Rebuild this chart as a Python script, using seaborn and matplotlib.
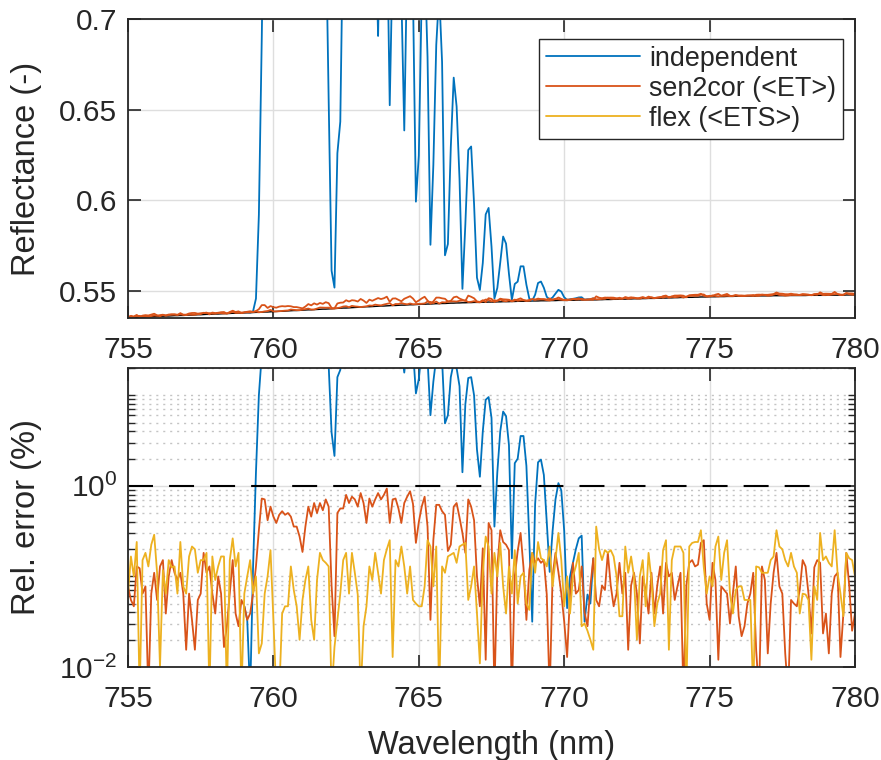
import numpy as np
import matplotlib
matplotlib.use('Agg')
import matplotlib.pyplot as plt
from matplotlib.lines import Line2D
import seaborn as sns

# wavelength grid (nm), 0.1 nm sampling
wavelength = np.round(np.arange(755, 780.05, 0.1), 1)

# reference ("true") reflectance, in units of 1e-4
truth_e4 = [
    5352, 5353, 5353, 5354, 5355, 5355, 5356, 5357, 5357, 5358,
    5359, 5359, 5360, 5361, 5361, 5362, 5363, 5363, 5364, 5364,
    5365, 5366, 5366, 5367, 5368, 5368, 5369, 5370, 5370, 5371,
    5372, 5372, 5373, 5374, 5374, 5375, 5376, 5376, 5377, 5377,
    5378, 5379, 5379, 5380, 5381, 5381, 5382, 5383, 5383, 5384,
    5385, 5386, 5387, 5387, 5388, 5389, 5390, 5391, 5391, 5392,
    5393, 5394, 5395, 5395, 5396, 5397, 5398, 5399, 5399, 5400,
    5401, 5402, 5403, 5404, 5405, 5405, 5406, 5407, 5408, 5409,
    5410, 5411, 5412, 5412, 5413, 5414, 5415, 5416, 5416, 5417,
    5418, 5419, 5419, 5420, 5421, 5421, 5422, 5423, 5423, 5424,
    5425, 5426, 5426, 5427, 5427, 5428, 5429, 5429, 5430, 5430,
    5431, 5432, 5432, 5433, 5433, 5434, 5434, 5435, 5435, 5436,
    5436, 5436, 5437, 5437, 5438, 5438, 5438, 5439, 5439, 5440,
    5440, 5440, 5441, 5441, 5442, 5442, 5442, 5443, 5443, 5444,
    5444, 5444, 5445, 5445, 5445, 5446, 5446, 5446, 5447, 5447,
    5447, 5447, 5448, 5448, 5448, 5449, 5449, 5449, 5450, 5450,
    5450, 5450, 5451, 5451, 5452, 5452, 5452, 5453, 5453, 5454,
    5454, 5454, 5455, 5455, 5456, 5456, 5456, 5457, 5457, 5458,
    5458, 5458, 5459, 5459, 5460, 5460, 5461, 5461, 5462, 5462,
    5463, 5463, 5464, 5464, 5464, 5465, 5465, 5466, 5466, 5466,
    5467, 5467, 5467, 5468, 5468, 5468, 5469, 5469, 5469, 5470,
    5470, 5470, 5470, 5471, 5471, 5471, 5471, 5472, 5472, 5472,
    5472, 5472, 5473, 5473, 5473, 5473, 5473, 5474, 5474, 5474,
    5474, 5474, 5474, 5474, 5475, 5475, 5475, 5475, 5475, 5475,
    5475, 5476, 5476, 5476, 5476, 5476, 5476, 5477, 5477, 5477,
    5477]

# log10 of relative error (%) - sen2cor (<ET>)
log_err_sen2cor = [
    -1.11, -1.26, -1.33, -0.89, -0.91, -1.19, -1.11, -2.3, -1.19, -0.96,
    -1.26, -0.89, -0.82, -1.41, -1.0, -0.82, -0.96, -1.04, -0.96, -1.19,
    -1.81, -1.19, -1.48, -1.81, -1.26, -1.19, -0.74, -0.96, -0.89, -1.19,
    -1.41, -1.0, -1.19, -1.78, -1.55, -1.19, -0.82, -1.41, -1.55, -1.26,
    -1.33, -1.48, -1.41, -1.19, -0.89, -0.49, -0.14, -0.15, -0.38, -0.23,
    -0.34, -0.41, -0.32, -0.28, -0.32, -0.30, -0.34, -0.45, -0.45, -0.56,
    -0.73, -0.45, -0.23, -0.34, -0.19, -0.30, -0.19, -0.27, -0.15, -0.23,
    -1.1, -1.66, -0.30, -0.25, -0.25, -0.10, -0.19, -0.12, -0.15, -0.23,
    -0.08, -0.19, -0.41, -0.14, -0.23, -0.15, -0.08, -0.15, -0.10, -0.03,
    -0.41, -0.15, -0.14, -0.25, -0.41, -0.19, -0.12, -0.06, -0.20, -0.63,
    -0.40, -0.23, -0.12, -0.45, -1.48, -0.60, -0.21, -0.21, -0.28, -0.32,
    -0.72, -0.65, -0.23, -0.19, -0.35, -0.52, -0.74, -0.15, -0.23, -0.38,
    -1.0, -1.33, -0.69, -1.92, -0.41, -0.49, -2.3, -0.9, -0.49, -0.62,
    -0.65, -0.71, -2.3, -1.0, -0.72, -0.52, -0.9, -1.48, -0.93, -0.74,
    -0.85, -0.8, -0.85, -0.82, -1.2, -2.3, -1.0, -0.74, -0.95, -1.19,
    -1.5, -1.89, -1.2, -0.85, -1.19, -1.15, -0.89, -1.4, -1.55, -1.11,
    -0.8, -1.26, -1.33, -1.1, -1.15, -0.74, -1.1, -1.33, -1.19, -0.85,
    -1.19, -0.96, -1.81, -1.1, -0.96, -1.19, -1.74, -1.0, -1.15, -1.41,
    -0.96, -1.41, -1.1, -0.89, -1.41, -0.85, -1.0, -0.96, -1.26, -1.1,
    -0.96, -2.3, -1.1, -0.85, -0.82, -0.89, -0.87, -0.63, -0.60, -1.3,
    -1.48, -0.85, -1.04, -1.92, -1.11, -1.15, -1.19, -1.52, -1.19, -0.89,
    -1.44, -1.66, -1.55, -1.3, -1.19, -0.96, -1.81, -2.3, -0.89, -1.04,
    -1.85, -1.3, -0.96, -0.74, -1.11, -1.19, -1.85, -2.3, -1.26, -1.3,
    -1.33, -1.15, -0.82, -0.89, -1.19, -1.63, -0.9, -0.82, -0.85, -1.63,
    -1.41, -1.85, -1.19, -1.0, -0.96, -1.89, -1.41, -0.74, -1.1, -1.6,
    -1.41]

# log10 of relative error (%) - flex (<ETS>)
log_err_flex = [
    -1.19, -0.78, -1.00, -0.62, -2.3, -0.82, -0.74, -0.89, -0.65, -0.54,
    -0.96, -2.0, -0.93, -1.19, -0.82, -0.90, -0.89, -1.19, -0.62, -1.11,
    -1.19, -0.78, -0.67, -0.70, -0.96, -0.82, -0.82, -0.74, -2.3, -0.78,
    -1.04, -0.89, -0.78, -0.78, -2.3, -0.82, -0.58, -0.89, -0.74, -2.3,
    -1.19, -1.0, -0.82, -1.19, -1.0, -1.85, -1.74, -1.19, -1.0, -0.71,
    -1.48, -2.3, -2.3, -1.41, -1.33, -1.33, -0.89, -1.15, -1.33, -1.70,
    -1.26, -1.04, -0.89, -1.48, -1.70, -1.04, -0.74, -0.82, -0.85, -0.89,
    -2.3, -1.78, -1.48, -1.19, -0.82, -0.74, -1.19, -0.74, -0.96, -1.2,
    -2.3, -1.55, -1.33, -0.89, -1.04, -0.74, -0.96, -1.19, -0.82, -0.70,
    -0.60, -1.89, -0.82, -0.89, -0.67, -0.89, -1.19, -0.89, -1.26, -1.30,
    -1.33, -1.33, -1.11, -0.60, -0.67, -1.11, -0.67, -2.3, -0.89, -0.96,
    -0.78, -0.76, -0.74, -0.85, -0.67, -0.65, -0.63, -1.26, -1.11, -0.89,
    -1.41, -1.96, -0.96, -0.56, -0.67, -1.19, -0.74, -1.0, -0.63, -1.11,
    -1.41, -0.89, -1.19, -0.71, -1.30, -1.0, -0.96, -1.30, -1.37, -0.74,
    -0.96, -0.62, -0.80, -0.82, -0.89, -0.67, -1.11, -0.82, -0.52, -0.82,
    -1.33, -1.0, -1.41, -1.0, -0.89, -0.74, -1.55, -1.52, -1.6, -1.7,
    -1.81, -0.45, -0.70, -0.82, -0.71, -0.74, -0.71, -0.78, -1.0, -1.44,
    -1.44, -0.67, -0.96, -0.78, -1.0, -1.70, -1.0, -0.82, -1.33, -0.74,
    -1.04, -1.55, -1.3, -1.19, -0.71, -0.60, -1.81, -0.82, -0.67, -0.67,
    -0.67, -0.74, -2.3, -0.67, -0.63, -0.62, -0.62, -0.49, -0.9, -1.19,
    -1.0, -1.11, -0.67, -0.56, -1.04, -0.74, -0.60, -1.19, -1.41, -1.15,
    -1.11, -1.11, -1.26, -1.26, -1.26, -2.3, -0.89, -0.9, -0.96, -0.96,
    -0.96, -0.82, -0.78, -0.49, -0.67, -0.7, -0.82, -0.89, -0.74, -0.89,
    -0.96, -1.41, -1.19, -1.2, -1.26, -1.92, -1.11, -1.26, -0.52, -0.82,
    -0.78, -0.85, -0.89, -0.49, -0.96, -1.19, -1.44, -0.74, -0.8, -0.82,
    -1.0]

# log10 of relative error (%) - independent, 759.0 .. 771.0 nm
# (outside this window it coincides with sen2cor)
indep_start, indep_stop = 40, 161
log_err_indep = [
    -1.33, -1.48, -2.3, -0.9, 0.15, 1.0, 1.45, 1.7, 1.75, 1.8,
    1.85, 1.9, 1.85, 1.8, 1.75, 1.8, 1.85, 1.9, 1.9, 1.85,
    1.8, 1.75, 1.8, 1.85, 1.8, 1.75, 1.7, 1.65, 1.6, 1.33,
    0.59, 0.33, 1.2, 1.28, 1.6, 1.7, 1.75, 1.8, 1.8, 1.75,
    1.7, 1.75, 1.8, 1.75, 1.7, 1.6, 1.44, 1.65, 1.7, 1.6,
    1.31, 1.55, 1.7, 1.6, 1.5, 1.25, 1.55, 1.6, 1.5, 1.02,
    1.18, 1.5, 1.55, 1.4, 0.78, 1.15, 1.42, 1.5, 1.39, 0.69,
    0.78, 1.2, 1.36, 1.3, 1.1, 0.15, 0.9, 1.19, 1.2, 1.0,
    0.4, 0.1, 0.6, 0.95, 0.98, 0.75, -0.45, 0.15, 0.6, 0.82,
    0.77, 0.45, -0.8, 0.25, 0.3, 0.55, 0.55, 0.22, -0.6, -1.5,
    -0.2, 0.26, 0.29, 0.12, -0.4, -0.95, -0.5, -0.15, 0.03, -0.05,
    -0.5, -1.35, -1.0, -0.85, -0.7, -0.58, -0.55, -1.5, -1.2, -1.3,
    -0.8]

labels = ['independent', 'sen2cor (<ET>)', 'flex (<ETS>)']
colors = ['#0072BD', '#D95319', '#EDB120']

truth = np.array(truth_e4) / 1e4
err_s2c = 10 ** np.array(log_err_sen2cor)
err_flex = 10 ** np.array(log_err_flex)
err_ind = 10 ** np.array(log_err_indep)
wl_ind = wavelength[indep_start:indep_stop]

refl_s2c = truth * (1 + err_s2c / 100)
refl_flex = truth * (1 + err_flex / 100)
refl_ind = truth[indep_start:indep_stop] * (1 + err_ind / 100)

#----------------------------------------------------
sns.set_style('ticks')
plt.rcParams['font.family'] = ['Liberation Sans', 'DejaVu Sans']
plt.rcParams['mathtext.fontset'] = 'custom'
plt.rcParams['mathtext.rm'] = 'Liberation Sans'
plt.rcParams['mathtext.it'] = 'Liberation Sans:italic'
plt.rcParams['mathtext.default'] = 'regular'
txt = '#262626'

fig = plt.figure(figsize=(8.81, 7.6), dpi=100)
ax1 = fig.add_axes([0.1453, 0.5816, 0.8252, 0.3934])
ax2 = fig.add_axes([0.1453, 0.1224, 0.8252, 0.3934])

lw = 1.3

# top: reflectance
sns.lineplot(x=wavelength, y=truth, ax=ax1, color='k', lw=1.0)
sns.lineplot(x=wl_ind, y=refl_ind, ax=ax1, color=colors[0], lw=lw)
sns.lineplot(x=wavelength, y=refl_flex, ax=ax1, color=colors[1], lw=lw)
sns.lineplot(x=wavelength, y=refl_s2c, ax=ax1, color=colors[1], lw=lw)
ax1.set_xlim(755, 780)
ax1.set_ylim(0.535, 0.7)
ax1.set_yticks([0.55, 0.6, 0.65, 0.7])
ax1.set_yticklabels(['0.55', '0.6', '0.65', '0.7'])
ax1.set_ylabel('Reflectance (-)', fontsize=23.5, color=txt, labelpad=12)

handles = [Line2D([], [], color=c, lw=lw) for c in colors]
leg = ax1.legend(handles, labels, loc='upper right', bbox_to_anchor=(0.9835, 0.933),
                 borderaxespad=0, fontsize=19.4, frameon=True, fancybox=False,
                 framealpha=1, edgecolor=txt, handlelength=3.5, handletextpad=0.35,
                 labelspacing=0.15, borderpad=0.25)
leg.get_frame().set_linewidth(1.0)

# bottom: relative error
sns.lineplot(x=wl_ind, y=err_ind, ax=ax2, color=colors[0], lw=lw)
sns.lineplot(x=wavelength, y=err_s2c, ax=ax2, color=colors[1], lw=lw)
sns.lineplot(x=wavelength, y=err_flex, ax=ax2, color=colors[2], lw=lw)
ax2.axhline(1, color='k', lw=1.5, ls=(0, (12, 7.7)), zorder=5)
ax2.set_yscale('log')
ax2.set_xlim(755, 780)
ax2.set_ylim(0.01, 20)
ax2.set_yticks([0.01, 1])
ax2.set_yticklabels(['$10^{-2}$', '$10^{0}$'])
minor = [k * 10.0 ** e for e in (-2, -1, 0, 1) for k in range(1, 10)
         if k * 10.0 ** e not in (0.01, 1.0) and k * 10.0 ** e <= 20]
ax2.set_yticks(minor, minor=True)
ax2.yaxis.set_minor_formatter(matplotlib.ticker.NullFormatter())
ax2.grid(True, which='minor', axis='y', color='#c4c4c4', lw=1.0, ls=(0, (1.5, 3.5)))
ax2.set_ylabel('Rel. error (%)', fontsize=23.5, color=txt, labelpad=12)
ax2.set_xlabel('Wavelength (nm)', fontsize=23.5, color=txt, labelpad=12)

for ax in (ax1, ax2):
    ax.set_xticks([755, 760, 765, 770, 775, 780])
    ax.grid(True, which='major', color='#dedede', lw=1.0)
    ax.set_axisbelow(True)
    ax.tick_params(which='major', direction='in', length=9, width=1.2, top=True, right=True,
                   labelsize=21.5, colors=txt)
    ax.tick_params(axis='x', pad=13)
    ax.tick_params(axis='y', pad=8)
    ax.tick_params(which='minor', direction='in', length=5, width=1.0, left=True, right=True,
                   colors=txt)
    for s in ax.spines.values():
        s.set_color(txt)
        s.set_linewidth(1.3)
        s.set_zorder(6)

fig.savefig('out.png', dpi=100)
